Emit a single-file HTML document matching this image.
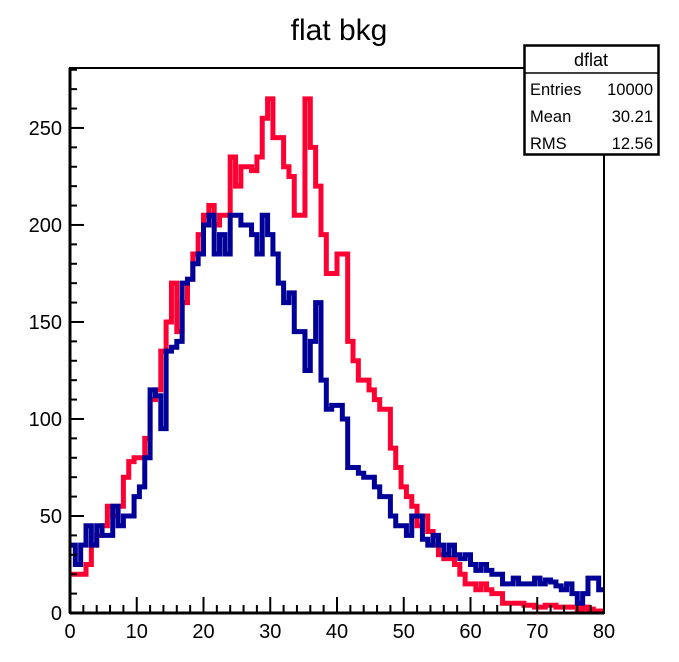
<!DOCTYPE html>
<html><head><meta charset="utf-8"><style>
html,body{margin:0;padding:0;background:#fff;}
svg{display:block;font-family:"Liberation Sans",Arial,sans-serif;}
</style></head><body>
<svg id="chart" width="679" height="662" viewBox="0 0 679 662">
<text x="339" y="40" font-size="30" text-anchor="middle">flat bkg</text>
<g id="plot"></g>
<rect x="70" y="68" width="534" height="545" fill="none" stroke="#000" stroke-width="2"/>
<g id="axes"></g>
<g>
<rect x="524.5" y="45.5" width="134" height="109" fill="#fff" stroke="#000" stroke-width="2.5"/>
<line x1="524" y1="73" x2="659" y2="73" stroke="#000" stroke-width="1.5"/>
<text x="591" y="66" font-size="18" text-anchor="middle">dflat</text>
<text x="530" y="95" font-size="16.5">Entries</text>
<text x="653" y="95" font-size="16.5" text-anchor="end">10000</text>
<text x="530" y="122" font-size="16.5">Mean</text>
<text x="653" y="122" font-size="16.5" text-anchor="end">30.21</text>
<text x="530" y="149" font-size="16.5">RMS</text>
<text x="653" y="149" font-size="16.5" text-anchor="end">12.56</text>
</g>
</svg>
<script>
const xMin = 0, xMax = 80, nBins = 100;
const yMax = 280.9;
const xTicks = [0,10,20,30,40,50,60,70,80];
const yTicks = [0,50,100,150,200,250];
const redCounts = [20,20,20,25,35,40,45,55,50,55,70,78,80,80,90,110,115,135,150,170,145,160,172,185,195,205,210,200,205,205,235,220,230,230,228,235,255,265,245,245,230,225,205,205,265,240,220,195,175,175,185,185,140,130,120,120,115,110,105,105,85,75,65,60,55,45,50,42,35,30,28,28,25,20,15,15,12,15,12,10,10,5,5,5,5,4,4,3,3,4,4,3,3,3,3,2,3,2,1,1];
const blueCounts = [35,25,35,45,35,45,40,40,55,45,50,50,60,65,80,115,112,95,135,137,140,170,172,180,185,200,205,185,195,185,205,205,200,200,195,185,205,195,185,170,160,165,145,145,125,140,160,120,105,107,107,100,75,75,72,70,70,65,60,60,50,45,45,40,50,50,38,35,40,35,30,35,30,28,30,25,22,25,22,20,20,15,15,18,15,15,15,18,15,17,16,14,12,15,10,5,10,18,18,12];
const L=70,R=604,T=68,B=613;
const sx=v=>L+(v-xMin)/(xMax-xMin)*(R-L);
const sy=c=>B-c/yMax*(B-T);
const NS='http://www.w3.org/2000/svg';
const plot=document.getElementById('plot');
function hist(vals,color,name){
  const w=(xMax-xMin)/nBins;
  let d='';
  vals.forEach((c,i)=>{
    const x0=sx(xMin+i*w),x1=sx(xMin+(i+1)*w),y=sy(c);
    d+=(i===0?'M':'L')+x0.toFixed(2)+','+y.toFixed(2)+'L'+x1.toFixed(2)+','+y.toFixed(2);
  });
  const p=document.createElementNS(NS,'path');
  p.setAttribute('d',d);p.setAttribute('fill','none');p.setAttribute('stroke',color);
  p.setAttribute('stroke-width','5');p.setAttribute('stroke-linejoin','miter');
  
  
  plot.appendChild(p);
}
hist(redCounts,'#ff0033','red-histogram');
hist(blueCounts,'#000099','blue-histogram');
const axes=document.getElementById('axes');
function line(x1,y1,x2,y2,w){const l=document.createElementNS(NS,'line');l.setAttribute('x1',x1);l.setAttribute('y1',y1);l.setAttribute('x2',x2);l.setAttribute('y2',y2);l.setAttribute('stroke','#000');l.setAttribute('stroke-width',w);axes.appendChild(l);return l;}
function txt(x,y,s,anchor){const t=document.createElementNS(NS,'text');t.setAttribute('x',x);t.setAttribute('y',y);t.setAttribute('font-size','20');t.setAttribute('text-anchor',anchor);t.textContent=s;axes.appendChild(t);return t;}
line(L,T,L,B,3);line(L,B,R,B,3);
for(let v=xMin;v<=xMax;v+=2){const x=sx(v);const major=v%10===0;line(x,B,x,B-(major?16:8),2);}
xTicks.forEach(v=>{const t=txt(sx(v),638,String(v),'middle');

});
for(let c=0;c<=yMax;c+=10){const y=sy(c);const major=c%50===0;line(L,y,L+(major?14:7),y,2);}
yTicks.forEach(c=>{const t=txt(62,sy(c)+7,String(c),'end');

});
</script>
</body></html>
